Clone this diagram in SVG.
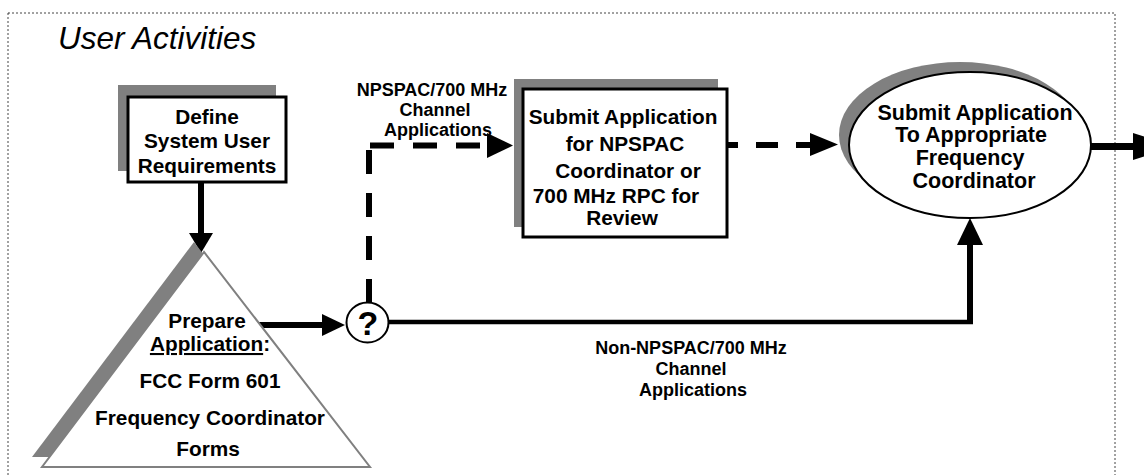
<svg xmlns="http://www.w3.org/2000/svg" width="1144" height="475" viewBox="0 0 1144 475">
<style>
.t{font-family:"Liberation Sans",Arial,sans-serif;font-weight:bold;font-size:20.8px;fill:#000;text-anchor:middle}
.lbl{font-family:"Liberation Sans",Arial,sans-serif;font-weight:bold;font-size:18px;fill:#000;text-anchor:middle}
.title{font-family:"Liberation Sans",Arial,sans-serif;font-style:italic;font-size:31.5px;fill:#000}
.shadow{fill:#808080}
.solid{stroke:#000;fill:none}
.dash{stroke:#000;fill:none;stroke-width:6;stroke-dasharray:24 19}
.head{fill:#000}
</style>
<rect x="8" y="13" width="1107" height="480" fill="none" stroke="#444" stroke-width="1" stroke-dasharray="2 2"/>
<text class="title" x="58" y="49">User Activities</text>

<g id="connectors">
  <line class="solid" x1="201" y1="182" x2="201" y2="234" stroke-width="6"/>
  <polygon class="head" points="189,233 213,233 201,253"/>
  <line class="solid" x1="258" y1="325" x2="323" y2="325" stroke-width="6"/>
  <polygon class="head" points="322,314 322,336 345,325"/>
  <line class="dash" x1="369" y1="303" x2="369" y2="148"/>
  <line class="dash" x1="370" y1="145.5" x2="487" y2="145.5"/>
  <polygon class="head" points="487,133 487,158 513,145.5"/>
  <line class="solid" x1="716" y1="145" x2="810" y2="145" stroke-width="6" stroke-dasharray="22 18"/>
  <polygon class="head" points="810,133 810,156 838,144.5"/>
  <line class="solid" x1="388" y1="322" x2="973" y2="322" stroke-width="4.5"/>
  <line class="solid" x1="970" y1="324" x2="970" y2="244" stroke-width="6"/>
  <polygon class="head" points="957,245 983,245 970,218"/>
  <line class="solid" x1="1091" y1="146.5" x2="1134" y2="146.5" stroke-width="7"/>
  <polygon class="head" points="1133,133 1133,160 1175,146.5"/>
</g>

<g id="define">
  <rect class="shadow" x="118" y="85" width="158" height="86"/>
  <rect x="128" y="97" width="158" height="85" fill="#fff" stroke="#000" stroke-width="3"/>
  <text class="t" x="207" y="124">Define</text>
  <text class="t" x="207" y="148">System User</text>
  <text class="t" x="207" y="173">Requirements</text>
</g>

<g id="prepare">
  <polygon class="shadow" points="194,242 32,457 360,457"/>
  <polygon points="204,252 42,467 370,467" fill="#fff" stroke="#808080" stroke-width="2"/>
  <text class="t" x="207" y="328">Prepare</text>
  <text class="t" x="210" y="351"><tspan text-decoration="underline">Application</tspan>:</text>
  <text class="t" x="210" y="388">FCC Form 601</text>
  <text class="t" x="210" y="425">Frequency Coordinator</text>
  <text class="t" x="208" y="456">Forms</text>
</g>

<g id="decision">
  <ellipse cx="367.5" cy="322.5" rx="21" ry="20" fill="#fff" stroke="#000" stroke-width="2"/>
  <text class="t" x="368" y="335" style="font-size:34px">?</text>
</g>

<g id="submit-review">
  <rect class="shadow" x="514" y="79" width="204" height="148"/>
  <rect x="523" y="89" width="204" height="148" fill="#fff" stroke="#000" stroke-width="3"/>
  <text class="t" x="623" y="123.5">Submit Application</text>
  <text class="t" x="625" y="151">for NPSPAC</text>
  <text class="t" x="628" y="178">Coordinator or</text>
  <text class="t" x="616" y="203">700 MHz RPC for</text>
  <text class="t" x="622" y="224.5">Review</text>
</g>

<g id="submit-coordinator">
  <ellipse class="shadow" cx="960" cy="135" rx="121" ry="73"/>
  <ellipse cx="970" cy="145" rx="121" ry="73" fill="#fff" stroke="#000" stroke-width="2"/>
  <text class="t" x="975" y="120" style="font-size:21.5px">Submit Application</text>
  <text class="t" x="971" y="142" style="font-size:21.5px">To Appropriate</text>
  <text class="t" x="970" y="165" style="font-size:21.5px">Frequency</text>
  <text class="t" x="974" y="188" style="font-size:21.5px">Coordinator</text>
</g>

<g id="labels">
  <text class="lbl" x="432" y="96">NPSPAC/700 MHz</text>
  <text class="lbl" x="435" y="116">Channel</text>
  <text class="lbl" x="438" y="136">Applications</text>
  <text class="lbl" x="691" y="354">Non-NPSPAC/700 MHz</text>
  <text class="lbl" x="691" y="375">Channel</text>
  <text class="lbl" x="693" y="396">Applications</text>
</g>
</svg>
